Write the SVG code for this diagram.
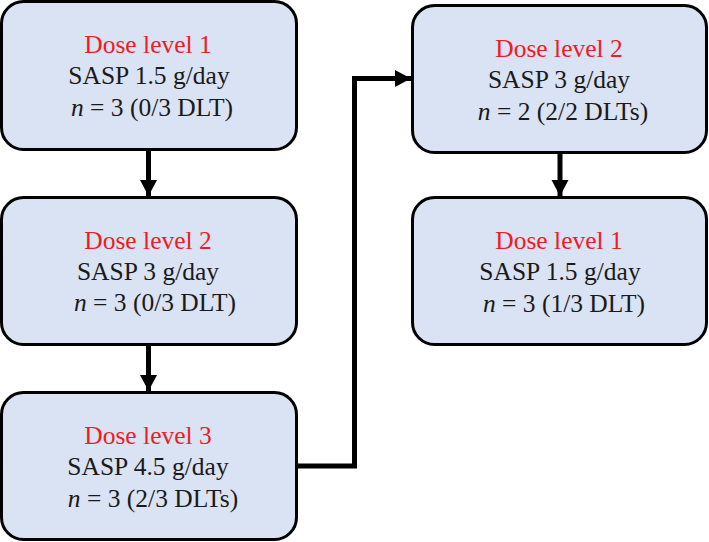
<svg xmlns="http://www.w3.org/2000/svg" width="709" height="542" viewBox="0 0 709 542">
<style>
.box{fill:#dae3f3;stroke:#000;stroke-width:3}
.conn{fill:none;stroke:#000;stroke-width:5}
</style>
<defs>
<marker id="ah" markerUnits="userSpaceOnUse" markerWidth="18" markerHeight="18" viewBox="0 0 18 18" refX="16" refY="9" orient="auto" overflow="visible">
<path d="M0,0.5 L16,9 L0,17.5 Z" fill="#000"/>
</marker>
</defs>
<g id="connectors">
<path class="conn" d="M148.5,151 V196" marker-end="url(#ah)"/>
<path class="conn" d="M148.5,345 V391" marker-end="url(#ah)"/>
<path class="conn" d="M560,154 V196" marker-end="url(#ah)"/>
<path class="conn" d="M298,466 H354.5 V78.5 H411" marker-end="url(#ah)"/>
</g>
<g font-family="Liberation Serif, Times New Roman, serif" font-size="25.5" text-anchor="middle" fill="#1a1a1a">
<g id="n1">
<rect class="box" x="1.5" y="1.5" width="295" height="148" rx="22"/>
<text x="148" y="53" fill="#ee1c24">Dose level 1</text>
<text x="149" y="84">SASP 1.5 g/day</text>
<text x="152" y="116"><tspan font-style="italic">n</tspan> = 3 (0/3 DLT)</text>
</g>
<g id="n2">
<rect class="box" x="1.5" y="197.5" width="295" height="147" rx="22"/>
<text x="148" y="249" fill="#ee1c24">Dose level 2</text>
<text x="148" y="280">SASP 3 g/day</text>
<text x="155" y="311"><tspan font-style="italic">n</tspan> = 3 (0/3 DLT)</text>
</g>
<g id="n3">
<rect class="box" x="1.5" y="392.5" width="295" height="147" rx="22"/>
<text x="148" y="444" fill="#ee1c24">Dose level 3</text>
<text x="148" y="475">SASP 4.5 g/day</text>
<text x="153" y="507"><tspan font-style="italic">n</tspan> = 3 (2/3 DLTs)</text>
</g>
<g id="n4">
<rect class="box" x="412.5" y="5.5" width="294" height="147" rx="22"/>
<text x="559" y="57" fill="#ee1c24">Dose level 2</text>
<text x="559" y="88">SASP 3 g/day</text>
<text x="563" y="120"><tspan font-style="italic">n</tspan> = 2 (2/2 DLTs)</text>
</g>
<g id="n5">
<rect class="box" x="412.5" y="197.5" width="294" height="147" rx="22"/>
<text x="559" y="249" fill="#ee1c24">Dose level 1</text>
<text x="560" y="280">SASP 1.5 g/day</text>
<text x="564" y="312"><tspan font-style="italic">n</tspan> = 3 (1/3 DLT)</text>
</g>
</g>
</svg>
